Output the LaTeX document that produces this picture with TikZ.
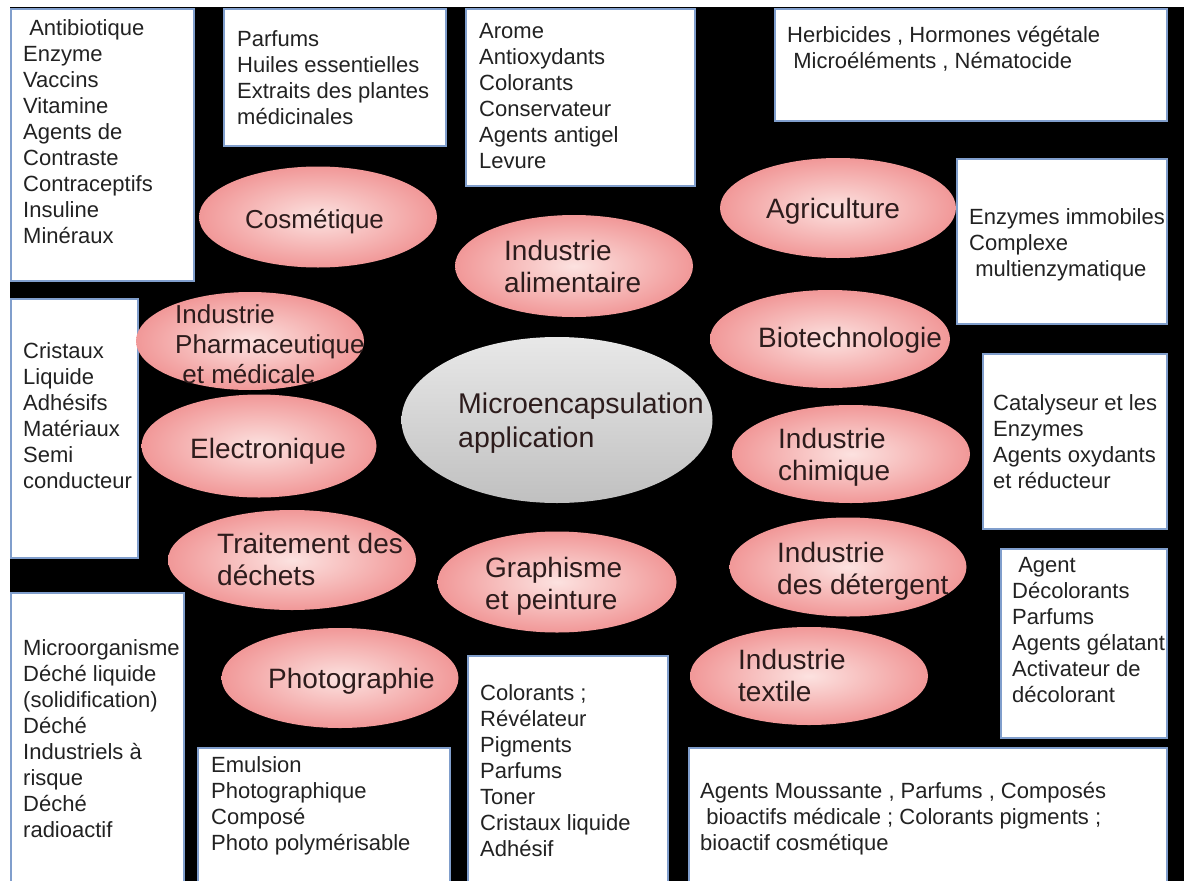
\documentclass[tikz,border=0pt]{standalone}
\usepackage{fontspec}
\setmainfont{Liberation Sans}
\usetikzlibrary{shapes.geometric}
\definecolor{boxblue}{RGB}{128,158,204}
\definecolor{pinkin}{RGB}{252,226,224}
\definecolor{pinkout}{RGB}{241,152,152}
\definecolor{graytop}{RGB}{232,232,232}
\definecolor{graybot}{RGB}{192,192,192}
\definecolor{txt}{RGB}{34,34,34}
\definecolor{etxt}{RGB}{45,28,28}
\newcommand{\mylines}[1]{\begin{tabular}[t]{@{}l@{}}#1\end{tabular}}
\tikzset{
  bx/.style={draw=boxblue, line width=2.2pt, fill=white, anchor=north west, inner sep=0pt},
  el/.style={ellipse, shading=radial, inner color=pinkin, outer color=pinkout, inner sep=0pt},
  cen/.style={ellipse, top color=graytop, bottom color=graybot, inner sep=0pt},
  btx/.style={anchor=base west, inner sep=0pt, text=txt, font=\fontsize{22}{26}\selectfont},
  etx/.style={anchor=base west, inner sep=0pt, text=etxt, font=\fontsize{28}{32}\selectfont},
  etxs/.style={anchor=base west, inner sep=0pt, text=etxt, font=\fontsize{26}{30}\selectfont},
}
\begin{document}
\begin{tikzpicture}[x=1pt,y=-1pt]
\useasboundingbox (0,0) rectangle (1184,881);
\clip (0,0) rectangle (1184,881);
\fill[white] (0,0) rectangle (1184,881);
\fill[black] (10,7) rectangle (1184,881);

% boxes
\node[bx, minimum width=183pt, minimum height=272pt] (bAnti) at (10,8) {};
\node[bx, minimum width=222pt, minimum height=137pt] (bParf) at (223,8) {};
\node[bx, minimum width=229pt, minimum height=177pt] (bArome) at (465,8) {};
\node[bx, minimum width=392pt, minimum height=112pt] (bHerb) at (774,8) {};
\node[bx, minimum width=210pt, minimum height=165pt] (bEnz) at (956,158) {};
\node[bx, minimum width=184pt, minimum height=175pt] (bCat) at (982,353) {};
\node[bx, minimum width=166pt, minimum height=189pt] (bAgent) at (1000,548) {};
\node[bx, minimum width=478pt, minimum height=150pt] (bMous) at (688,747) {};
\node[bx, minimum width=200pt, minimum height=240pt] (bColor) at (467,655) {};
\node[bx, minimum width=252pt, minimum height=150pt] (bEmul) at (197,747) {};
\node[bx, minimum width=173pt, minimum height=300pt] (bMicro) at (10,592) {};
\node[bx, minimum width=127pt, minimum height=259pt] (bCris) at (10,298) {};

% box texts
\node[btx] (tAnti) at (23,35) {\mylines{\ Antibiotique\\Enzyme\\Vaccins\\Vitamine\\Agents de\\Contraste\\Contraceptifs\\Insuline\\Minéraux}};
\node[btx] (tParf) at (237,46) {\mylines{Parfums\\Huiles essentielles\\Extraits des plantes\\médicinales}};
\node[btx] (tArome) at (479,38) {\mylines{Arome\\Antioxydants\\Colorants\\Conservateur\\Agents antigel\\Levure}};
\node[btx] (tHerb) at (787,42) {\mylines{Herbicides , Hormones végétale\\\ Microéléments , Nématocide}};
\node[btx] (tEnz) at (969,224) {\mylines{Enzymes immobiles\\Complexe\\\ multienzymatique}};
\node[btx] (tCat) at (993,410) {\mylines{Catalyseur et les\\Enzymes\\Agents oxydants\\et réducteur}};
\node[btx] (tAgent) at (1012,572) {\mylines{\ Agent\\Décolorants\\Parfums\\Agents gélatant\\Activateur de\\décolorant}};
\node[btx] (tMous) at (700,798) {\mylines{Agents Moussante , Parfums , Composés\\\ bioactifs médicale ; Colorants pigments ;\\bioactif cosmétique}};
\node[btx] (tColor) at (480,700) {\mylines{Colorants ;\\Révélateur\\Pigments\\Parfums\\Toner\\Cristaux liquide\\Adhésif}};
\node[btx] (tEmul) at (211,772) {\mylines{Emulsion\\Photographique\\Composé\\Photo polymérisable}};
\node[btx] (tMicro) at (23,655) {\mylines{Microorganisme\\Déché liquide\\(solidification)\\Déché\\Industriels à\\risque\\Déché\\radioactif}};
\node[btx] (tCris) at (23,358) {\mylines{Cristaux\\Liquide\\Adhésifs\\Matériaux\\Semi\\conducteur}};

% ellipses
\node[el, minimum width=238pt, minimum height=101pt] (eCos) at (318,217) {};
\node[el, minimum width=238pt, minimum height=102pt] (eAli) at (574,266) {};
\node[el, minimum width=236pt, minimum height=100pt] (eAgr) at (838,208) {};
\node[el, minimum width=228pt, minimum height=98pt] (ePha) at (250,341) {};
\node[el, minimum width=240pt, minimum height=98pt] (eBio) at (830,339) {};
\node[el, minimum width=235pt, minimum height=103pt] (eEle) at (259,446) {};
\node[el, minimum width=238pt, minimum height=98pt] (eChi) at (851,454) {};
\node[el, minimum width=248pt, minimum height=100pt] (eTra) at (292,560) {};
\node[el, minimum width=239pt, minimum height=101pt] (eGra) at (557,582) {};
\node[el, minimum width=237pt, minimum height=99pt] (eDet) at (848,567) {};
\node[el, minimum width=237pt, minimum height=100pt] (ePho) at (340,678) {};
\node[el, minimum width=238pt, minimum height=98pt] (eTex) at (809,676) {};
\node[cen, minimum width=311pt, minimum height=166pt] (eCen) at (557,420) {};

% ellipse texts
\node[etxs] (lCos) at (245,228) {Cosmétique};
\node[etx] (lAli) at (504,260) {\mylines{Industrie\\alimentaire}};
\node[etx] (lAgr) at (766,218) {Agriculture};
\node[etxs] (lPha) at (175,323) {\mylines{Industrie\\Pharmaceutique\\\ et médicale}};
\node[etx] (lBio) at (758,347) {Biotechnologie};
\node[etx] (lEle) at (190,458) {Electronique};
\node[etx] (lChi) at (778,448) {\mylines{Industrie\\chimique}};
\node[etx] (lTra) at (217,553) {\mylines{Traitement des\\déchets}};
\node[etx] (lGra) at (485,577) {\mylines{Graphisme\\et peinture}};
\node[etx] (lDet) at (777,562) {\mylines{Industrie\\des détergent}};
\node[etx] (lPho) at (268,688) {Photographie};
\node[etx] (lTex) at (738,669) {\mylines{Industrie\\textile}};
\node[etx, font=\fontsize{28.5}{34}\selectfont] (lCen) at (458,413) {\mylines{Microencapsulation\\application}};
\end{tikzpicture}
\end{document}
